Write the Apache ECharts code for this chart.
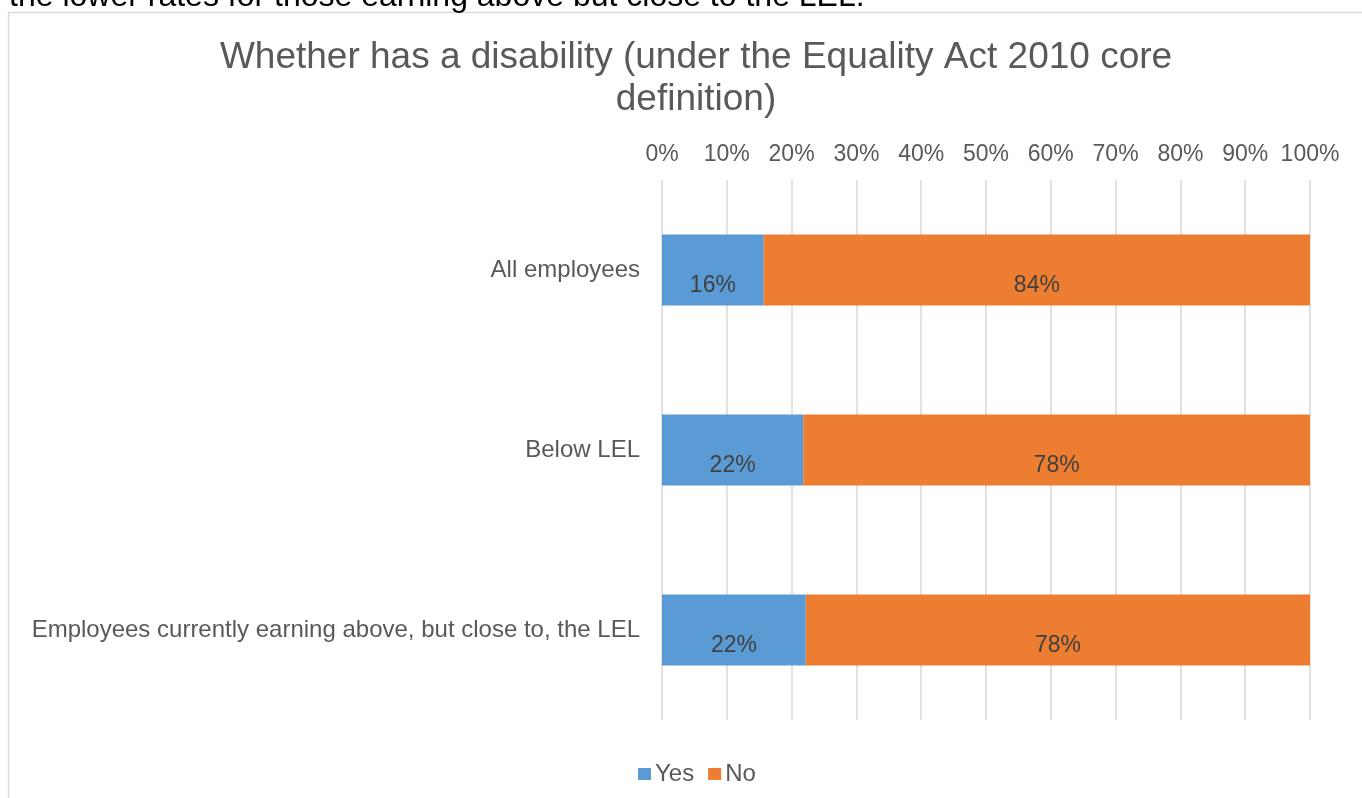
<!DOCTYPE html>
<html>
<head>
<meta charset="utf-8">
<script src="https://cdn.jsdelivr.net/npm/echarts@6/dist/echarts.min.js"></script>
<style>html,body{margin:0;padding:0;background:#fff;}#chart{width:1362px;height:798px;}</style>
</head>
<body>
<div id="chart"></div>
<script>
const categories = ['All employees', 'Below LEL', 'Employees currently earning above, but close to, the LEL'];
const yesValues = [15.7, 21.8, 22.2];
const noValues = [84.3, 78.2, 77.8];
const seriesNames = ['Yes', 'No'];
const titleText = 'Whether has a disability (under the Equality Act 2010 core\ndefinition)';
const topText = 'the lower rates for those earning above but close to the LEL.';

const FONT = 'Liberation Sans, Arial, sans-serif';
const chart = echarts.init(document.getElementById('chart'));
const labelCfg = {
  show: true, position: 'inside', offset: [0, 16],
  color: '#404040', fontSize: 23, fontFamily: FONT,
  formatter: p => Math.round(p.value) + '%'
};
chart.setOption({
  animation: false,
  textStyle: { fontFamily: FONT },
  graphic: [
    { type: 'rect', shape: { x: 8.5, y: 12.5, width: 1400, height: 900 }, style: { fill: 'none', stroke: '#d9d9d9', lineWidth: 1.5 }, silent: true, z: -10 },
    { type: 'text', left: 9, top: -19, style: { text: topText, fill: '#000', font: '32px Liberation Sans, Arial, sans-serif' }, silent: true }
  ],
  title: {
    text: titleText, left: 691, top: 32, textAlign: 'center',
    textStyle: { color: '#595959', fontSize: 37, fontWeight: 'normal', lineHeight: 42, fontFamily: FONT }
  },
  legend: {
    data: seriesNames, top: 757, left: 633, itemWidth: 13, itemHeight: 12, itemGap: 14,
    icon: 'rect', textStyle: { color: '#595959', fontSize: 24, fontFamily: FONT, padding: [0, 0, 0, -1] }
  },
  grid: { left: 662, right: 52, top: 180, bottom: 78, containLabel: false },
  xAxis: {
    type: 'value', position: 'top', min: 0, max: 100, interval: 10,
    axisLabel: { formatter: '{value}%', color: '#595959', fontSize: 23, margin: 14, fontFamily: FONT },
    axisLine: { show: false }, axisTick: { show: false },
    splitLine: { lineStyle: { color: '#d9d9d9', width: 1.5 } }
  },
  yAxis: {
    type: 'category', data: categories, inverse: true,
    axisLine: { show: false }, axisTick: { show: false },
    axisLabel: { color: '#595959', fontSize: 24, margin: 22, fontFamily: FONT }
  },
  series: [
    { name: seriesNames[0], type: 'bar', stack: 'total', data: yesValues, barWidth: 71, itemStyle: { color: '#5B9BD5' }, label: labelCfg },
    { name: seriesNames[1], type: 'bar', stack: 'total', data: noValues, barWidth: 71, itemStyle: { color: '#ED7D31' }, label: labelCfg }
  ]
});
</script>
</body>
</html>
